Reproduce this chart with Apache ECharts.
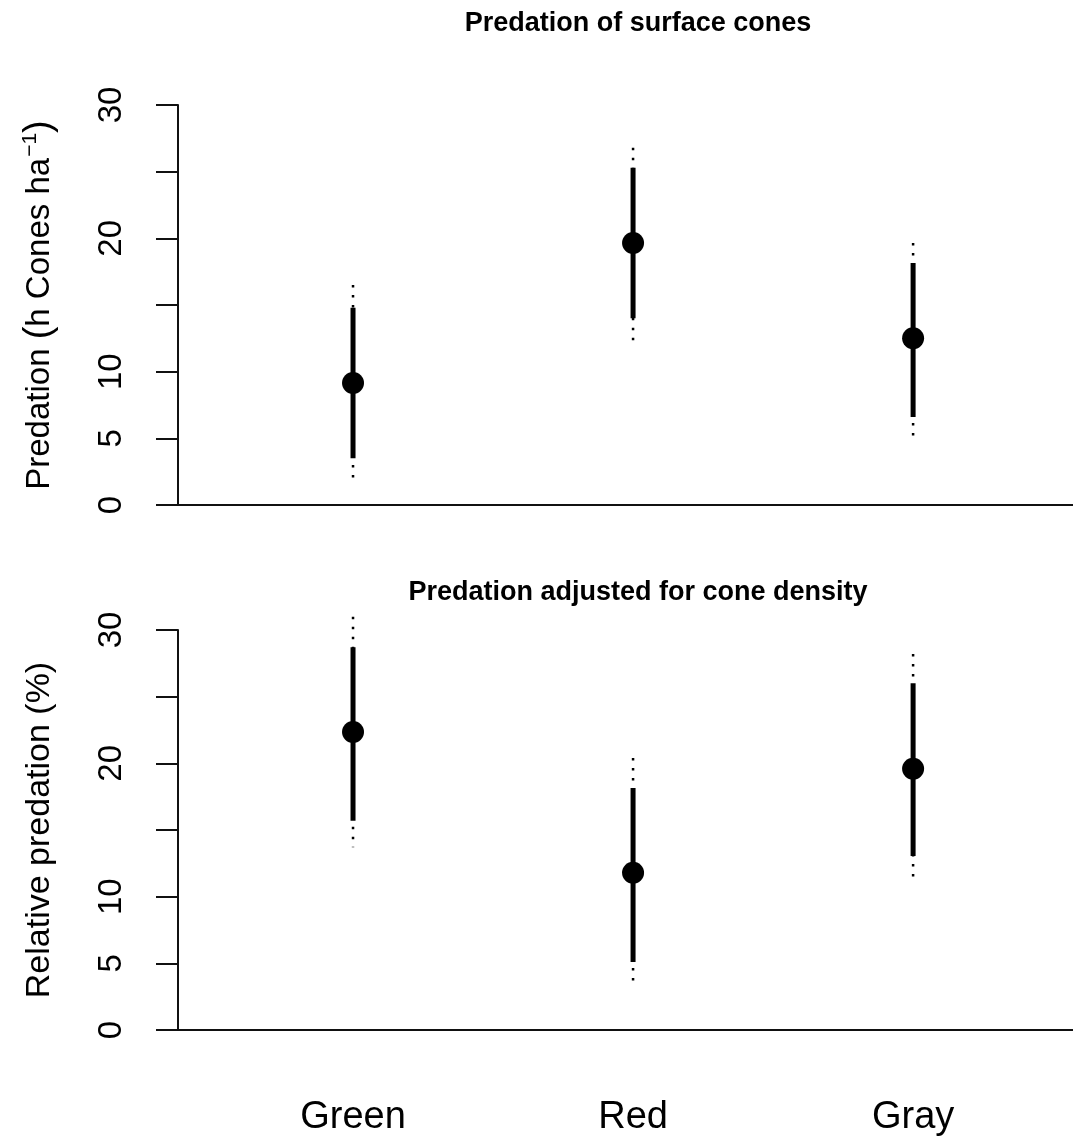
<!DOCTYPE html>
<html>
<head>
<meta charset="utf-8">
<script src="https://cdn.jsdelivr.net/npm/echarts@6/dist/echarts.min.js"></script>
<style>
html,body{margin:0;padding:0;background:#fff;}
#chart{width:1073px;height:1137px;}
</style>
</head>
<body>
<div id="chart"></div>
<script>
// ---- data ----
var categories = ['Green', 'Red', 'Gray'];
var yTicks = [0, 5, 10, 20, 30]; // labelled ticks (15 and 25 unlabelled)

// Panel 1: Predation of surface cones
var surfaceMean      = [9.15, 19.65, 12.5];
var surfaceInnerLow  = [3.5, 14.0, 6.6];
var surfaceInnerHigh = [14.8, 25.3, 18.15];
var surfaceOuterLow  = [2.0, 12.2, 5.1];
var surfaceOuterHigh = [16.5, 26.8, 19.65];

// Panel 2: Predation adjusted for cone density
var relMean      = [22.35, 11.8, 19.6];
var relInnerLow  = [15.7, 5.1, 13.05];
var relInnerHigh = [28.7, 18.15, 26.0];
var relOuterLow  = [13.7, 3.15, 11.0];
var relOuterHigh = [31.0, 20.4, 28.2];

var FONT = 'Liberation Sans, Arial, Helvetica, sans-serif';

function rangeData(lo, hi) {
  return categories.map(function (c, i) { return [i + 1, lo[i], hi[i]]; });
}
function pointData(m) {
  return categories.map(function (c, i) { return [i + 1, m[i]]; });
}
function rangeSeries(idx, lo, hi, width, dash) {
  return {
    type: 'custom',
    xAxisIndex: idx, yAxisIndex: idx,
    clip: false,
    silent: true,
    data: rangeData(lo, hi),
    encode: { x: 0, y: [1, 2] },
    renderItem: function (params, api) {
      var x = api.value(0);
      var p1 = api.coord([x, api.value(2)]);
      var p2 = api.coord([x, api.value(1)]);
      return {
        type: 'line',
        shape: { x1: p1[0], y1: p1[1], x2: p2[0], y2: p2[1] },
        style: { stroke: '#000', lineWidth: width, lineDash: dash, lineCap: 'butt', fill: null }
      };
    }
  };
}
function pointSeries(idx, m) {
  return {
    type: 'scatter', xAxisIndex: idx, yAxisIndex: idx,
    clip: false, silent: true,
    symbol: 'circle', symbolSize: 22,
    itemStyle: { color: '#000', opacity: 1 },
    data: pointData(m)
  };
}

var xMin = 0.375, xMax = 3.571;
function xAxis(idx, showLabels) {
  return {
    type: 'value', gridIndex: idx, min: xMin, max: xMax,
    axisLine: { show: true, onZero: false, lineStyle: { color: '#111', width: 2 } },
    axisTick: { show: false },
    splitLine: { show: false },
    axisLabel: showLabels ? {
      show: true, customValues: [1, 2, 3], margin: 69,
      fontSize: 38, color: '#000', fontFamily: FONT,
      formatter: function (v) { return categories[Math.round(v) - 1]; }
    } : { show: false }
  };
}
function yAxis(idx, name) {
  return {
    type: 'value', gridIndex: idx, min: 0, max: 30, interval: 5,
    axisLine: { show: true, lineStyle: { color: '#111', width: 2 } },
    axisTick: { show: true, inside: false, length: 22, lineStyle: { color: '#111', width: 2 } },
    splitLine: { show: false },
    axisLabel: {
      rotate: 90, margin: 50, fontSize: 33, color: '#000', fontFamily: FONT,
      formatter: function (v) { return yTicks.indexOf(v) >= 0 ? String(v) : ''; }
    },
    name: name,
    nameLocation: 'middle', nameRotate: 90, nameGap: 118,
    nameTextStyle: {
      fontSize: 34, color: '#000', fontFamily: FONT, lineHeight: 40,
      rich: {
        a: { fontSize: 33, color: '#000', fontFamily: FONT, lineHeight: 40 },
        p: { fontSize: 38, color: '#000', fontFamily: FONT, lineHeight: 40 },
        s: { fontSize: 21, color: '#000', fontFamily: FONT, lineHeight: 40, verticalAlign: 'top', padding: [0, 0, 0, 1] }
      }
    }
  };
}

var chart = echarts.init(document.getElementById('chart'), null, { renderer: 'canvas' });
chart.setOption({
  backgroundColor: '#fff',
  animation: false,
  title: [
    { text: 'Predation of surface cones', left: 633, top: 5, textAlign: 'center',
      textStyle: { fontSize: 27, fontWeight: 'bold', color: '#000', fontFamily: FONT } },
    { text: 'Predation adjusted for cone density', left: 633, top: 574, textAlign: 'center',
      textStyle: { fontSize: 27, fontWeight: 'bold', color: '#000', fontFamily: FONT } }
  ],
  grid: [
    { left: 178, top: 105, width: 895, height: 400, containLabel: false },
    { left: 178, top: 630, width: 895, height: 400, containLabel: false }
  ],
  xAxis: [xAxis(0, false), xAxis(1, true)],
  yAxis: [
    yAxis(0, '{a|Predation }{p|(}{a|h Cones ha}{s|\u22121}{p|)}'),
    yAxis(1, 'Relative predation (%)')
  ],
  series: [
    rangeSeries(0, surfaceOuterLow, surfaceOuterHigh, 2.5, [2.5, 7.5]),
    rangeSeries(0, surfaceInnerLow, surfaceInnerHigh, 5, null),
    pointSeries(0, surfaceMean),
    rangeSeries(1, relOuterLow, relOuterHigh, 2.5, [2.5, 7.5]),
    rangeSeries(1, relInnerLow, relInnerHigh, 5, null),
    pointSeries(1, relMean)
  ]
});
</script>
</body>
</html>
